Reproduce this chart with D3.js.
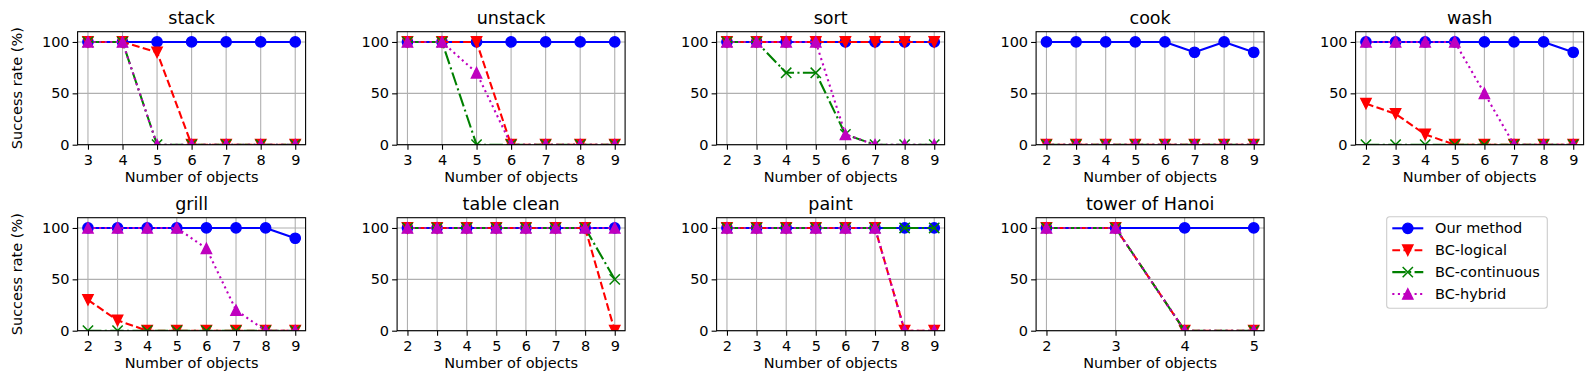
<!DOCTYPE html>
<html>
<head>
<meta charset="utf-8">
<script src="https://cdn.jsdelivr.net/npm/d3@7"></script>
<style>
  body { margin: 0; background: #fff; }
  svg text { font-family: "DejaVu Sans", sans-serif; fill: #000; }
</style>
</head>
<body>
<div id="chart"></div>
<script>
// task titles, x values and success rates (%)
const taskNames = ['stack', 'unstack', 'sort', 'cook', 'wash', 'grill', 'table clean', 'paint', 'tower of Hanoi'];

const objectCounts = [
  [3, 4, 5, 6, 7, 8, 9],
  [3, 4, 5, 6, 7, 8, 9],
  [2, 3, 4, 5, 6, 7, 8, 9],
  [2, 3, 4, 5, 6, 7, 8, 9],
  [2, 3, 4, 5, 6, 7, 8, 9],
  [2, 3, 4, 5, 6, 7, 8, 9],
  [2, 3, 4, 5, 6, 7, 8, 9],
  [2, 3, 4, 5, 6, 7, 8, 9],
  [2, 3, 4, 5]
];

const ourMethod = [
  [100, 100, 100, 100, 100, 100, 100],
  [100, 100, 100, 100, 100, 100, 100],
  [100, 100, 100, 100, 100, 100, 100, 100],
  [100, 100, 100, 100, 100, 90, 100, 90],
  [100, 100, 100, 100, 100, 100, 100, 90],
  [100, 100, 100, 100, 100, 100, 100, 90],
  [100, 100, 100, 100, 100, 100, 100, 100],
  [100, 100, 100, 100, 100, 100, 100, 100],
  [100, 100, 100, 100]
];

const bcLogical = [
  [100, 100, 90, 0, 0, 0, 0],
  [100, 100, 100, 0, 0, 0, 0],
  [100, 100, 100, 100, 100, 100, 100, 100],
  [0, 0, 0, 0, 0, 0, 0, 0],
  [40, 30, 10, 0, 0, 0, 0, 0],
  [30, 10, 0, 0, 0, 0, 0, 0],
  [100, 100, 100, 100, 100, 100, 100, 0],
  [100, 100, 100, 100, 100, 100, 0, 0],
  [100, 100, 0, 0]
];

const bcContinuous = [
  [100, 100, 0, 0, 0, 0, 0],
  [100, 100, 0, 0, 0, 0, 0],
  [100, 100, 70, 70, 10, 0, 0, 0],
  [0, 0, 0, 0, 0, 0, 0, 0],
  [0, 0, 0, 0, 0, 0, 0, 0],
  [0, 0, 0, 0, 0, 0, 0, 0],
  [100, 100, 100, 100, 100, 100, 100, 50],
  [100, 100, 100, 100, 100, 100, 100, 100],
  [100, 100, 0, 0]
];

const bcHybrid = [
  [100, 100, 0, 0, 0, 0, 0],
  [100, 100, 70, 0, 0, 0, 0],
  [100, 100, 100, 100, 10, 0, 0, 0],
  [0, 0, 0, 0, 0, 0, 0, 0],
  [100, 100, 100, 100, 50, 0, 0, 0],
  [100, 100, 100, 100, 80, 20, 0, 0],
  [100, 100, 100, 100, 100, 100, 100, 100],
  [100, 100, 100, 100, 100, 100, 0, 0],
  [100, 100, 0, 0]
];

const seriesNames = ['Our method', 'BC-logical', 'BC-continuous', 'BC-hybrid'];
const yTicks = [0, 50, 100];

const chart = (() => {
  const W = 1594, H = 374;
  const plotW = 228, plotH = 113;
  const colLeft = i => 77.6 + i * 319.5;
  const rowTop = [31.7, 217.7];
  const lw = 2.1;
  const ms = 10.3;

  const styles = [
    {color: '#0000ff', dash: null, marker: 'o'},
    {color: '#ff0000', dash: [3.7 * lw, 1.6 * lw], marker: 'v'},
    {color: '#008000', dash: [6.4 * lw, 1.6 * lw, lw, 1.6 * lw], marker: 'x'},
    {color: '#bf00bf', dash: [lw, 1.65 * lw], marker: '^'}
  ];

  let svg;

  const drawMarker = (g, type, color, cx, cy) => {
    const h = ms / 2;
    if (type === 'o') {
      g.append('circle').attr('cx', cx).attr('cy', cy).attr('r', h)
        .attr('fill', color).attr('stroke', color).attr('stroke-width', 1.4);
    } else if (type === 'x') {
      g.append('path').attr('d', `M${cx - h},${cy - h}L${cx + h},${cy + h}M${cx - h},${cy + h}L${cx + h},${cy - h}`)
        .attr('fill', 'none').attr('stroke', color).attr('stroke-width', 1.5);
    } else {
      const s = type === 'v' ? 1 : -1;
      g.append('path').attr('d', `M${cx},${cy + s * h}L${cx - h},${cy - s * h}L${cx + h},${cy - s * h}Z`)
        .attr('fill', color).attr('stroke', color).attr('stroke-width', 1.4).attr('stroke-linejoin', 'miter');
    }
  };

  const drawPanel = (k) => {
    const col = k % 5, row = Math.floor(k / 5);
    const xs = objectCounts[k];
    const lo = d3.min(xs), hi = d3.max(xs), pad = (hi - lo) * 0.05;
    const x = d3.scaleLinear().domain([lo - pad, hi + pad]).range([0, plotW]);
    const y = d3.scaleLinear().domain([0, 110]).range([plotH, 0]);

    const g = svg.append('g').attr('transform', `translate(${colLeft(col)},${rowTop[row]})`);

    g.append('clipPath').attr('id', `clip${k}`)
      .append('rect').attr('width', plotW).attr('height', plotH);

    // grid
    const grid = g.append('g').attr('stroke', '#b0b0b0').attr('stroke-width', 1.1);
    grid.selectAll('.gx').data(xs).enter().append('line')
      .attr('x1', d => x(d)).attr('x2', d => x(d)).attr('y1', 0).attr('y2', plotH);
    grid.selectAll('.gy').data(yTicks).enter().append('line')
      .attr('y1', d => y(d)).attr('y2', d => y(d)).attr('x1', 0).attr('x2', plotW);

    // series
    const data = [ourMethod[k], bcLogical[k], bcContinuous[k], bcHybrid[k]];
    const plot = g.append('g').attr('clip-path', `url(#clip${k})`);
    const line = d3.line().x(d => x(d[0])).y(d => y(d[1]));
    data.forEach((vals, si) => {
      const st = styles[si];
      const pts = xs.map((v, i) => [v, vals[i]]);
      plot.append('path').datum(pts).attr('d', line)
        .attr('fill', 'none').attr('stroke', st.color).attr('stroke-width', lw)
        .attr('stroke-dasharray', st.dash ? st.dash.join(',') : null)
        .attr('stroke-linejoin', 'round');
      pts.forEach(p => drawMarker(plot, st.marker, st.color, x(p[0]), y(p[1])));
    });

    // axes
    const xAxis = g.append('g').attr('transform', `translate(0,${plotH})`)
      .call(d3.axisBottom(x).tickValues(xs).tickFormat(d3.format('d')).tickSize(5).tickPadding(5.5));
    const yAxis = g.append('g')
      .call(d3.axisLeft(y).tickValues(yTicks).tickSize(5).tickPadding(3));
    [xAxis, yAxis].forEach(a => {
      a.select('.domain').remove();
      a.selectAll('line').attr('stroke', '#000').attr('stroke-width', 1.1);
      a.selectAll('text').attr('font-size', '14.5px').attr('font-family', '"DejaVu Sans", sans-serif');
    });

    g.append('rect').attr('width', plotW).attr('height', plotH)
      .attr('fill', 'none').attr('stroke', '#000').attr('stroke-width', 1.1);

    g.append('text').attr('x', plotW / 2).attr('y', -7.7).attr('text-anchor', 'middle')
      .attr('font-size', '17.5px').text(taskNames[k]);
    g.append('text').attr('x', plotW / 2).attr('y', plotH + 37).attr('text-anchor', 'middle')
      .attr('font-size', '14.5px').text('Number of objects');
    if (col === 0) {
      g.append('text').attr('transform', `translate(${21.5 - colLeft(0)},${plotH / 2}) rotate(-90)`)
        .attr('text-anchor', 'middle').attr('font-size', '14.5px').text('Success rate (%)');
    }
  };

  const drawLegend = () => {
    const lg = svg.append('g').attr('transform', 'translate(1386.7,216.7)');
    lg.append('rect').attr('width', 160.6).attr('height', 91.6).attr('rx', 3)
      .attr('fill', '#fff').attr('fill-opacity', 0.8).attr('stroke', '#cccccc').attr('stroke-width', 1.1);
    seriesNames.forEach((name, i) => {
      const st = styles[i];
      const cy = 11.6 + i * 21.9;
      lg.append('line').attr('x1', 5.6).attr('x2', 36.6).attr('y1', cy).attr('y2', cy)
        .attr('stroke', st.color).attr('stroke-width', lw)
        .attr('stroke-dasharray', st.dash ? st.dash.join(',') : null);
      drawMarker(lg, st.marker, st.color, 21.1, cy);
      lg.append('text').attr('x', 48.3).attr('y', cy + 5.2).attr('font-size', '14.5px').text(name);
    });
  };

  const draw = () => {
    svg = d3.select('#chart').append('svg').attr('width', W).attr('height', H);
    taskNames.forEach((t, k) => drawPanel(k));
    drawLegend();
  };

  return { draw };
})();

chart.draw();
</script>
</body>
</html>
